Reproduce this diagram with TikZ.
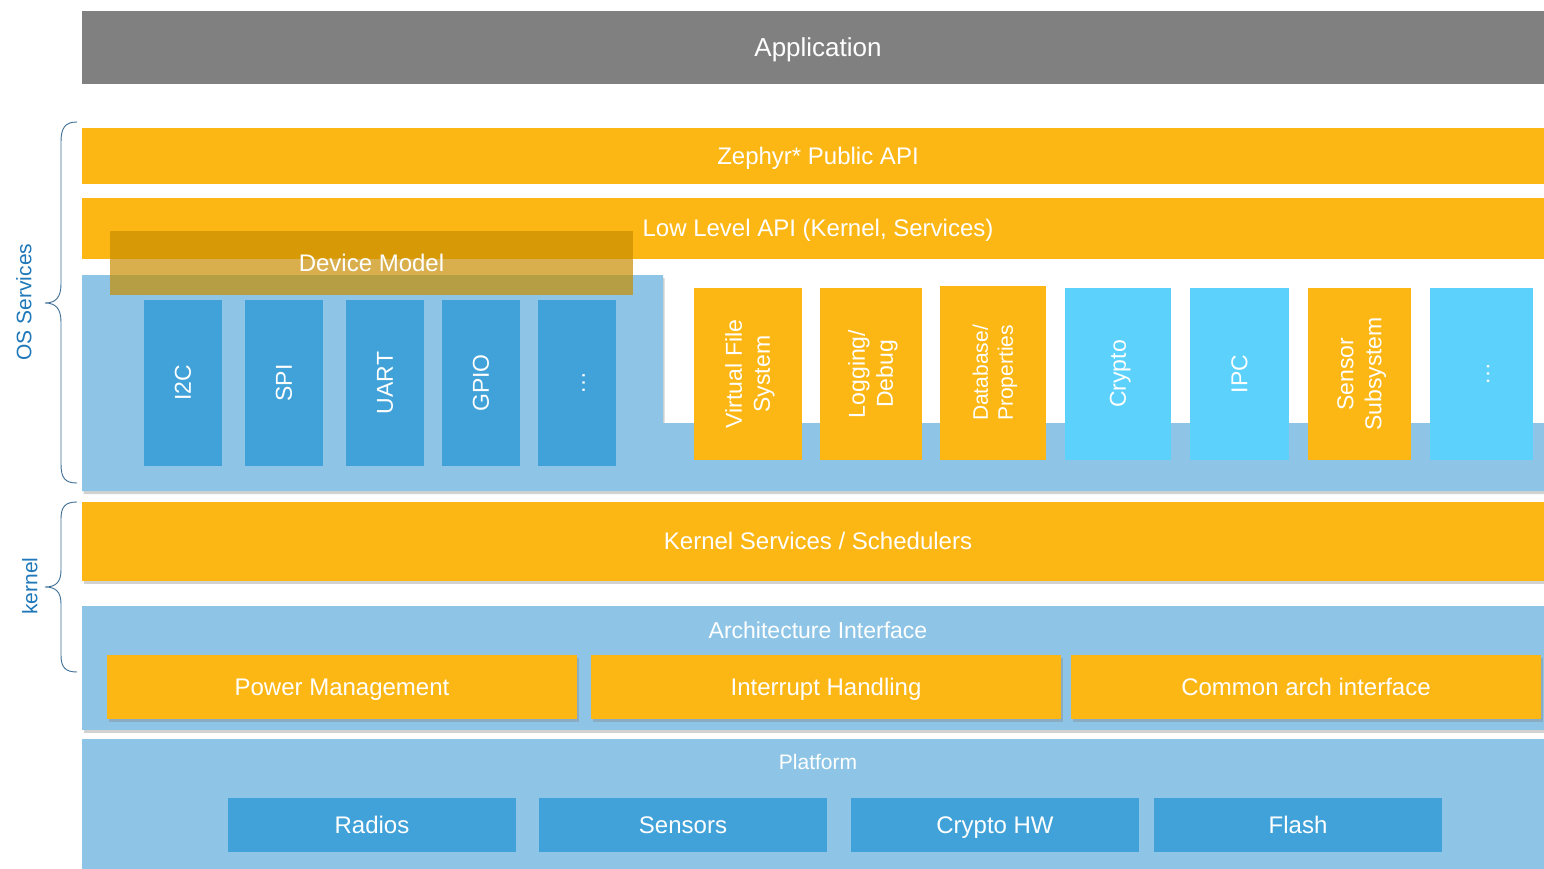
\documentclass[tikz,border=0pt]{standalone}
\usepackage{fontspec}
\setmainfont{Liberation Sans}
\usetikzlibrary{shadows}
\definecolor{appgray}{RGB}{128,128,128}
\definecolor{zorange}{RGB}{252,183,21}
\definecolor{paleblue}{RGB}{142,197,230}
\definecolor{midblue}{RGB}{64,162,216}
\definecolor{skyblue}{RGB}{91,209,252}
\definecolor{dmbrown}{RGB}{200,142,0}
\definecolor{labelblue}{RGB}{31,120,185}
\definecolor{bracecol}{RGB}{60,110,150}
\tikzset{
  block/.style={rectangle, inner sep=0pt, outer sep=0pt, text=white, align=center},
  % font size, line spacing, and a text box of the font's ascent and descent
  fz/.style 2 args={font=\fontsize{#1}{#2}\selectfont,
    text height=\fpeval{0.905*#1}pt, text depth=\fpeval{0.212*#1}pt},
  % two lines of text: the height also covers the first line
  twoline/.style 2 args={text height=\fpeval{0.905*#1+#2}pt},
  softshadow/.style={drop shadow={shadow xshift=1.5pt, shadow yshift=-3pt, opacity=0.35}},
  bar/.style={block, minimum width=1472pt, fz={24}{29}},
  drv/.style={block, fill=midblue, rotate=90, minimum width=166pt, minimum height=78pt, fz={23}{28}},
  svc/.style={block, rotate=90, minimum width=172pt, fz={23}{28}},
  chip/.style={block, fill=midblue, minimum width=288pt, minimum height=54pt, fz={24}{29}},
  arch/.style={block, fill=zorange, minimum width=470pt, minimum height=64pt, fz={24}{29}, softshadow},
  sidelabel/.style={rotate=90, text=labelblue, fz={21}{25}, inner sep=0pt},
  bracepath/.style={draw=bracecol, line width=0.9pt},
}
\begin{document}
\begin{tikzpicture}[x=1pt, y=-1pt]
\clip (0,0) rectangle (1544,869);
\fill[white] (0,0) rectangle (1544,869);

% application layer
\node[bar, fill=appgray, minimum height=73pt, fz={26}{31}] (app) at (818,47.5) {Application};

% OS services
\node[bar, fill=zorange, minimum height=56pt] (public) at (818,156) {Zephyr* Public API};
\node[bar, fill=zorange, minimum height=61pt] (lowlevel) at (818,228.5) {Low Level API (Kernel, Services)};

\fill[paleblue, softshadow] (82,275) -- (663,275) -- (663,423) -- (1560,423) -- (1560,491) -- (82,491) -- cycle;

\node[block, fill=dmbrown, fill opacity=0.7, text opacity=1, minimum width=523pt, minimum height=64pt, fz={24}{29}] (devmodel) at (371.5,263) {Device Model};

\node[drv] (i2c)  at (183,383) {I2C};
\node[drv] (spi)  at (284,383) {SPI};
\node[drv] (uart) at (385,383) {UART};
\node[drv] (gpio) at (481,383) {GPIO};
\node[drv] (drvmore) at (577,383) {…};

\node[svc, fill=zorange, minimum height=108pt, twoline={23}{28}] (vfs) at (748,374) {Virtual File\\System};
\node[svc, fill=zorange, minimum height=102pt, twoline={23}{28}] (log) at (871,374) {Logging/\\Debug};
\node[svc, fill=zorange, minimum height=106pt, minimum width=174pt, fz={21}{25}, twoline={21}{25}] (db) at (993,373) {Database/\\Properties};
\node[svc, fill=skyblue, minimum height=106pt] (crypto) at (1118,374) {Crypto};
\node[svc, fill=skyblue, minimum height=99pt] (ipc) at (1239.5,374) {IPC};
\node[svc, fill=zorange, minimum height=103pt, twoline={23}{28}] (sensor) at (1359.5,374) {Sensor\\Subsystem};
\node[svc, fill=skyblue, minimum height=103pt] (svcmore) at (1481.5,374) {…};

% kernel
\node[bar, fill=zorange, minimum height=79pt, softshadow] (kernel) at (818,541.5) {Kernel Services / Schedulers};

\node[bar, fill=paleblue, minimum height=124pt, softshadow] (archbox) at (818,668) {};
\node[block, fz={23}{28}] (archlabel) at (818,631) {Architecture Interface};
\node[arch] (power) at (342,687) {Power Management};
\node[arch] (irq) at (826,687) {Interrupt Handling};
\node[arch] (common) at (1306,687) {Common arch interface};

% platform
\node[bar, fill=paleblue, minimum height=141pt] (platform) at (818,809.5) {};
\node[block, fz={21}{25}] (platlabel) at (818,762) {Platform};
\node[chip] (radios)  at (372,825) {Radios};
\node[chip] (sensors) at (683,825) {Sensors};
\node[chip] (cryptohw) at (995,825) {Crypto HW};
\node[chip] (flash)   at (1298,825) {Flash};

% side braces and labels
\draw[bracepath] (77,122) .. controls (65,122) and (61,128) .. (61,142) -- (61,284)
  .. controls (61,297) and (56,303) .. (45,303)
  .. controls (56,303) and (61,309) .. (61,322) -- (61,464)
  .. controls (61,478) and (65,483) .. (77,483);
\node[sidelabel] (oslabel) at (24,302) {OS Services};

\draw[bracepath] (77,502) .. controls (65,502) and (61,507) .. (61,519) -- (61,570)
  .. controls (61,582) and (56,587) .. (45,587)
  .. controls (56,587) and (61,592) .. (61,604) -- (61,655)
  .. controls (61,667) and (65,672) .. (77,672);
\node[sidelabel] (kernellabel) at (30,586) {kernel};
\end{tikzpicture}
\end{document}
